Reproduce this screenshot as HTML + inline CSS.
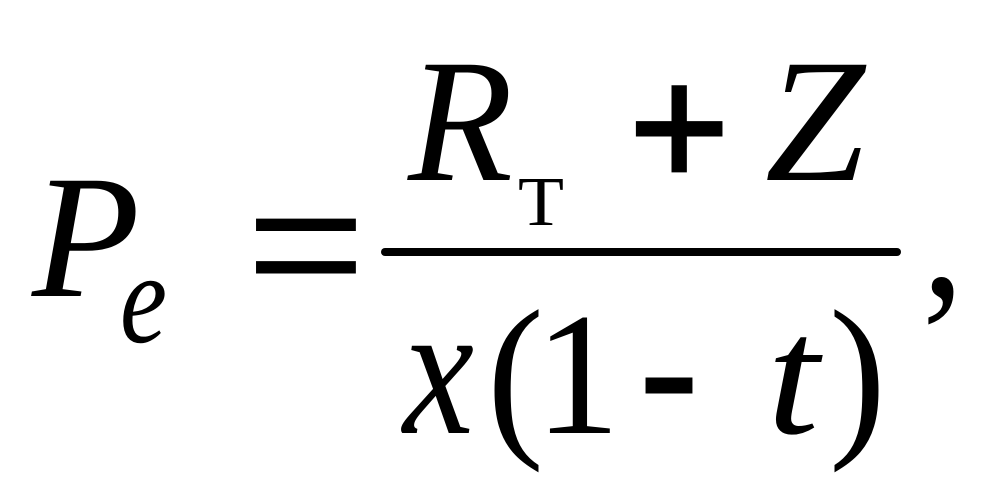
<!DOCTYPE html>
<html><head><meta charset="utf-8"><style>
html,body{margin:0;padding:0;background:#fff}
svg{display:block}
text{font-family:"Liberation Serif",serif;fill:#000}
.i{font-style:italic}
.s{font-family:"Liberation Sans",sans-serif}
</style></head><body>
<svg width="992" height="504" viewBox="0 0 992 504" xmlns="http://www.w3.org/2000/svg">
<rect width="992" height="504" fill="#fff"/>
<text class="i" x="32" y="296" font-size="176" textLength="108" lengthAdjust="spacingAndGlyphs">P</text>
<text class="i" x="120" y="342" font-size="130" textLength="47" lengthAdjust="spacingAndGlyphs">e</text>
<text class="s" x="246" y="302" font-size="170" textLength="120" lengthAdjust="spacingAndGlyphs">=</text>
<text class="i" x="408" y="180" font-size="176" textLength="105" lengthAdjust="spacingAndGlyphs">R</text>
<text x="518" y="225" font-size="70" textLength="46" lengthAdjust="spacingAndGlyphs">T</text>
<text class="s" x="629" y="186" font-size="172" stroke="#000" stroke-width="3">+</text>
<text class="i" x="765" y="180" font-size="176" textLength="100" lengthAdjust="spacingAndGlyphs">Z</text>
<rect x="381" y="248" width="520" height="8" rx="4" fill="#000"/>
<text x="922" y="296" font-size="185" textLength="42" lengthAdjust="spacingAndGlyphs">,</text>
<text class="i" x="403" y="433" font-size="190" textLength="71" lengthAdjust="spacingAndGlyphs">x</text>
<text x="487" y="434" font-size="180" textLength="57" lengthAdjust="spacingAndGlyphs">(</text>
<text x="535" y="433" font-size="175" textLength="85" lengthAdjust="spacingAndGlyphs">1</text>
<text class="s" x="637" y="440" font-size="205" textLength="64" lengthAdjust="spacingAndGlyphs">-</text>
<text class="i" x="767" y="433" font-size="170" textLength="52" lengthAdjust="spacingAndGlyphs">t</text>
<text x="829" y="434" font-size="180" textLength="57" lengthAdjust="spacingAndGlyphs">)</text>
</svg>
</body></html>
